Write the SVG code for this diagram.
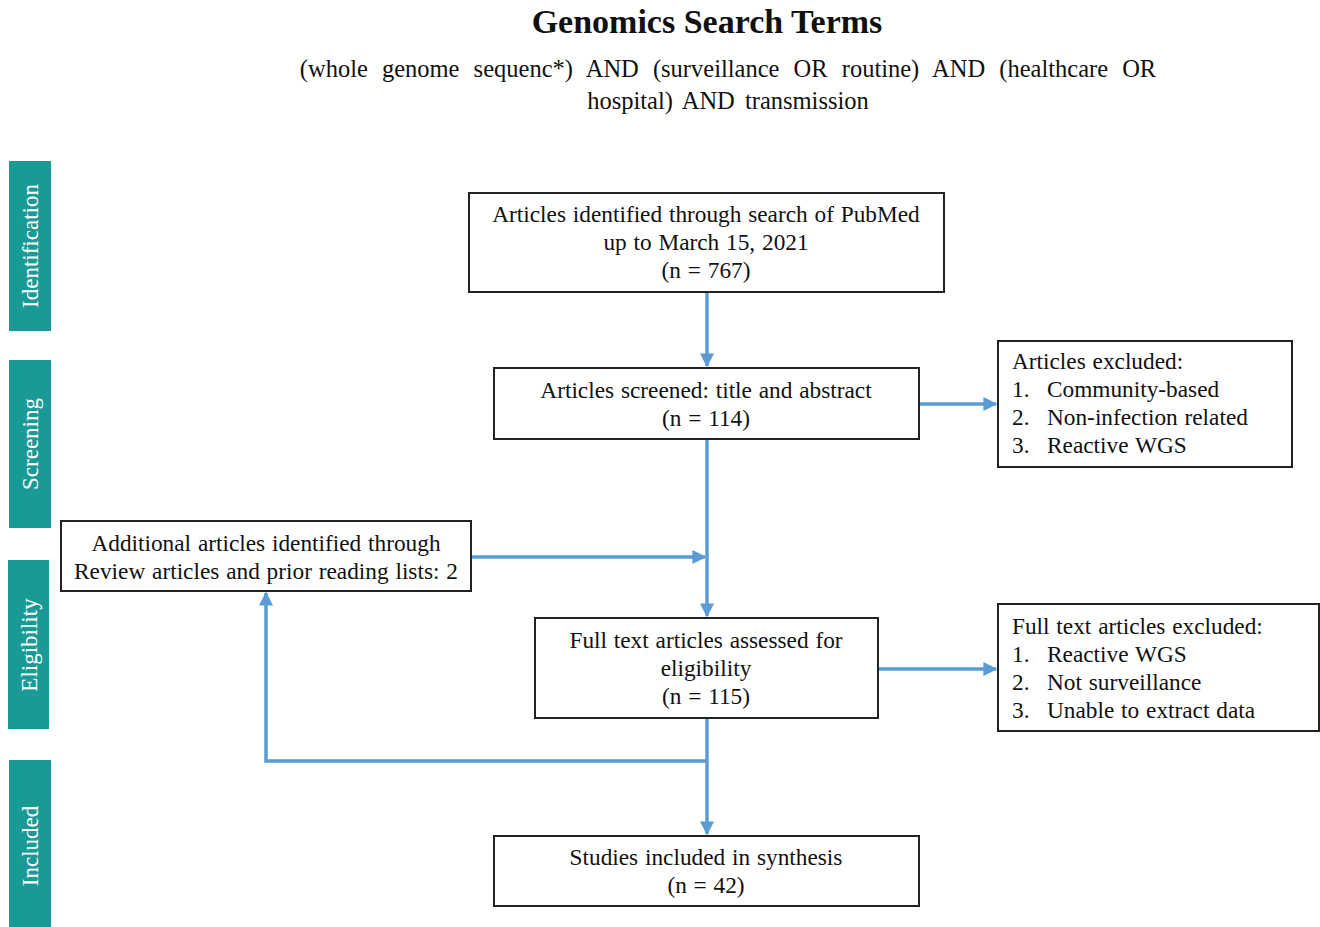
<svg xmlns="http://www.w3.org/2000/svg" width="1320" height="927" viewBox="0 0 1320 927">
<style>
.t{font-family:"Liberation Serif","Times New Roman",serif;fill:#111;font-size:23.3px;word-spacing:1px}
.c{text-anchor:middle}
.box{fill:#fff;stroke:#222;stroke-width:2}
.bar{fill:#1a9a96}
.bt{font-family:"Liberation Serif","Times New Roman",serif;fill:#fff;font-size:23px;text-anchor:middle}
.ln{fill:none;stroke:#5b9bd5;stroke-width:3.5}
</style>
<defs>
<marker id="ah" viewBox="0 0 10 10" refX="9" refY="5" markerWidth="4" markerHeight="4" orient="auto" markerUnits="strokeWidth">
<path d="M0,0 L10,5 L0,10 z" fill="#5b9bd5"/>
</marker>
</defs>
<rect width="1320" height="927" fill="#fff"/>
<g id="title">
<text class="t c" x="707" y="33" style="font-size:34px;font-weight:bold;word-spacing:0">Genomics Search Terms</text>
<text class="t c" x="728" y="77" style="font-size:24.5px;word-spacing:8px">(whole genome sequenc*) AND (surveillance OR routine) AND (healthcare OR</text>
<text class="t c" x="728" y="109" style="font-size:24.5px;word-spacing:4px">hospital) AND transmission</text>
</g>
<g id="bar-identification"><rect class="bar" x="9" y="161" width="42" height="170"/><text class="bt" transform="translate(38,246) rotate(-90)">Identification</text></g>
<g id="bar-screening"><rect class="bar" x="9" y="360" width="42" height="168"/><text class="bt" transform="translate(38,444) rotate(-90)">Screening</text></g>
<g id="bar-eligibility"><rect class="bar" x="8" y="560" width="41" height="169"/><text class="bt" transform="translate(37,645) rotate(-90)">Eligibility</text></g>
<g id="bar-included"><rect class="bar" x="9" y="760" width="42" height="167"/><text class="bt" transform="translate(38,846) rotate(-90)">Included</text></g>
<g id="connectors">
<line class="ln" x1="707" y1="292" x2="707" y2="366" marker-end="url(#ah)"/>
<line class="ln" x1="919" y1="404" x2="996" y2="404" marker-end="url(#ah)"/>
<line class="ln" x1="707" y1="439" x2="707" y2="616" marker-end="url(#ah)"/>
<line class="ln" x1="471" y1="557" x2="705" y2="557" marker-end="url(#ah)"/>
<line class="ln" x1="878" y1="669" x2="996" y2="669" marker-end="url(#ah)"/>
<line class="ln" x1="707" y1="718" x2="707" y2="834" marker-end="url(#ah)"/>
<polyline class="ln" points="707,761 266,761 266,593" marker-end="url(#ah)"/>
</g>
<g id="n-identified"><rect class="box" x="469" y="193" width="475" height="99"/>
<text class="t c" x="706" y="222">Articles identified through search of PubMed</text>
<text class="t c" x="706" y="250">up to March 15, 2021</text>
<text class="t c" x="706" y="278">(n = 767)</text></g>
<g id="n-screened"><rect class="box" x="494" y="368" width="425" height="71"/>
<text class="t c" x="706" y="398">Articles screened: title and abstract</text>
<text class="t c" x="706" y="426">(n = 114)</text></g>
<g id="n-excluded1"><rect class="box" x="998" y="341" width="294" height="126"/>
<text class="t" x="1012" y="369">Articles excluded:</text>
<text class="t" x="1012" y="397">1.</text><text class="t" x="1047" y="397">Community-based</text>
<text class="t" x="1012" y="425">2.</text><text class="t" x="1047" y="425">Non-infection related</text>
<text class="t" x="1012" y="453">3.</text><text class="t" x="1047" y="453">Reactive WGS</text></g>
<g id="n-additional"><rect class="box" x="61" y="521" width="410" height="70"/>
<text class="t c" x="266" y="551">Additional articles identified through</text>
<text class="t c" x="266" y="579">Review articles and prior reading lists: 2</text></g>
<g id="n-fulltext"><rect class="box" x="535" y="618" width="343" height="100"/>
<text class="t c" x="706" y="648">Full text articles assessed for</text>
<text class="t c" x="706" y="676">eligibility</text>
<text class="t c" x="706" y="704">(n = 115)</text></g>
<g id="n-excluded2"><rect class="box" x="998" y="604" width="321" height="127"/>
<text class="t" x="1012" y="634">Full text articles excluded:</text>
<text class="t" x="1012" y="662">1.</text><text class="t" x="1047" y="662">Reactive WGS</text>
<text class="t" x="1012" y="690">2.</text><text class="t" x="1047" y="690">Not surveillance</text>
<text class="t" x="1012" y="718">3.</text><text class="t" x="1047" y="718">Unable to extract data</text></g>
<g id="n-included"><rect class="box" x="494" y="836" width="425" height="70"/>
<text class="t c" x="706" y="865">Studies included in synthesis</text>
<text class="t c" x="706" y="893">(n = 42)</text></g>
</svg>
